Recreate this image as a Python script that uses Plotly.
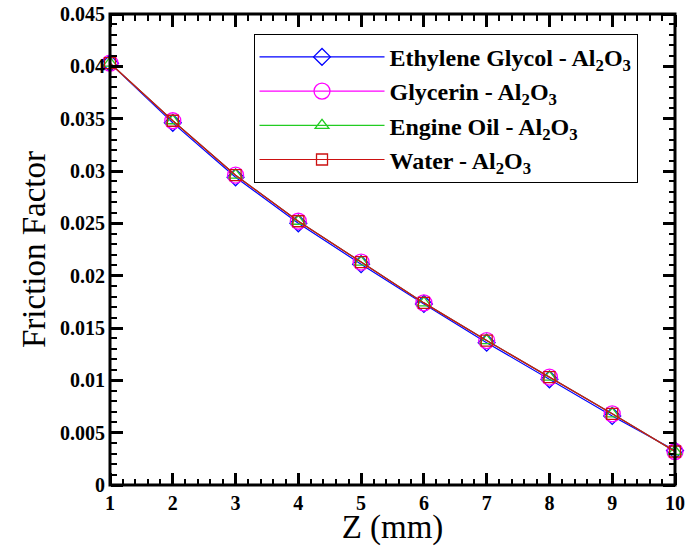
import plotly.graph_objects as go

z_mm = [1, 2, 3, 4, 5, 6, 7, 8, 9, 10]
ethylene_glycol = [0.0403, 0.0346, 0.0294, 0.0250, 0.0211, 0.0173, 0.0136, 0.0101, 0.0066, 0.0033]
glycerin = [0.0403, 0.0348, 0.0296, 0.0252, 0.0213, 0.0174, 0.0138, 0.0103, 0.0068, 0.0032]
engine_oil = [0.0403, 0.0348, 0.0296, 0.0252, 0.0213, 0.0174, 0.0138, 0.0103, 0.0068, 0.0032]
water = [0.0403, 0.0348, 0.0296, 0.0252, 0.0213, 0.0174, 0.0138, 0.0103, 0.0068, 0.0032]

names = [
    "Ethylene Glycol - Al<sub>2</sub>O<sub>3</sub>",
    "Glycerin - Al<sub>2</sub>O<sub>3</sub>",
    "Engine Oil - Al<sub>2</sub>O<sub>3</sub>",
    "Water - Al<sub>2</sub>O<sub>3</sub>",
]
series = [ethylene_glycol, glycerin, engine_oil, water]
colors = ["#0000ff", "#ff00ff", "#22cc22", "#cc1111"]
symbols = ["diamond-open", "circle-open", "triangle-up-open", "square-open"]
sizes = [13, 16, 12, 11]

x_range = [1, 10]
y_range = [0, 0.045]

fig = go.Figure()
for name, ys, c, s, sz in zip(names, series, colors, symbols, sizes):
    fig.add_trace(go.Scatter(
        x=z_mm, y=ys, name=name, mode="lines+markers",
        line=dict(color=c, width=1.2),
        marker=dict(symbol=s, size=sz, color=c, line=dict(width=1.3, color=c)),
        cliponaxis=False,
    ))

# invisible carrier traces so the tick-only overlay axes are drawn
for xa, ya in [("x2", "y"), ("x3", "y"), ("x", "y2"), ("x", "y3")]:
    fig.add_trace(go.Scatter(
        x=z_mm, y=water, xaxis=xa, yaxis=ya, mode="lines",
        line=dict(color="rgba(0,0,0,0)", width=0), showlegend=False, hoverinfo="skip",
    ))

tickfont = dict(family="Liberation Serif", size=20, color="black", weight="bold")
titlefont = dict(family="Liberation Serif", size=33, color="black")

xtick = dict(range=x_range, tickmode="linear", tick0=1, dtick=1, ticks="outside", ticklen=12,
             tickwidth=3, tickcolor="black", showticklabels=False, showline=False, showgrid=False,
             zeroline=False, overlaying="x", anchor="free",
             minor=dict(dtick=0.2, ticks="outside", ticklen=6, tickwidth=1.5, tickcolor="black", showgrid=False))
ytick = dict(range=y_range, tickmode="linear", tick0=0, dtick=0.005, ticks="outside", ticklen=12,
             tickwidth=3, tickcolor="black", showticklabels=False, showline=False, showgrid=False,
             zeroline=False, overlaying="y", anchor="free",
             minor=dict(dtick=0.001, ticks="outside", ticklen=6, tickwidth=1.5, tickcolor="black", showgrid=False))

fig.update_layout(
    width=688, height=546,
    margin=dict(l=110, r=3, t=13, b=60),
    paper_bgcolor="white", plot_bgcolor="white",
    showlegend=True,
    legend=dict(
        x=0.254, y=0.958, xanchor="left", yanchor="top",
        bordercolor="black", borderwidth=1, bgcolor="white",
        font=dict(family="Liberation Serif", size=24, color="black", weight="bold"),
        itemwidth=125, tracegroupgap=0,
    ),
    xaxis=dict(
        range=x_range, tickmode="linear", tick0=1, dtick=1, ticks="",
        showline=True, linewidth=1, linecolor="black", mirror=True,
        showgrid=False, zeroline=False, tickfont=tickfont, ticklabeloverflow="allow",
        title=dict(text="Z (mm)", font=titlefont, standoff=6),
    ),
    yaxis=dict(
        range=y_range, tickmode="linear", tick0=0, dtick=0.005, ticks="",
        showline=True, linewidth=1, linecolor="black", mirror=True,
        showgrid=False, zeroline=False, tickfont=tickfont,
        title=dict(text="Friction Factor", font=titlefont, standoff=4),
    ),
    xaxis2=dict(side="top", position=0, **xtick),
    xaxis3=dict(side="bottom", position=1, **xtick),
    yaxis2=dict(side="right", position=0, **ytick),
    yaxis3=dict(side="left", position=1, **ytick),
    shapes=[dict(type="rect", xref="paper", yref="paper", x0=0, x1=1, y0=0, y1=1,
                 line=dict(color="black", width=3), layer="above")],
)
fig.write_html("out.html")
